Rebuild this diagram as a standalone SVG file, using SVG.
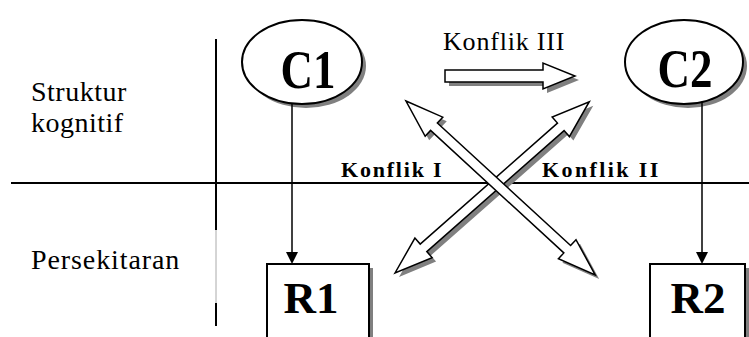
<svg xmlns="http://www.w3.org/2000/svg" width="749" height="337" viewBox="0 0 749 337">
<defs>
<style>
.t{font-family:"Liberation Serif","Times New Roman",serif;fill:#000}
.b{font-family:"Liberation Serif","Times New Roman",serif;font-weight:bold;fill:#000;text-anchor:middle}
.sh{fill:#808080}
.nd{fill:#fff;stroke:#000;stroke-width:2}
.blk{fill:#fff;stroke:#000;stroke-width:1.5}
</style>
</defs>
<rect x="0" y="0" width="749" height="337" fill="#fff"/>
<g id="axes">
<line x1="11" y1="183" x2="749" y2="183" stroke="#000" stroke-width="2"/>
<line x1="216" y1="39" x2="216" y2="230" stroke="#000" stroke-width="2"/>
<line x1="216" y1="230" x2="216" y2="303" stroke="#aaa" stroke-width="1"/>
<line x1="216" y1="303" x2="216" y2="326" stroke="#000" stroke-width="2"/>
</g>
<g id="labels">
<text class="t" x="31" y="101" font-size="28" letter-spacing="0.5">Struktur</text>
<text class="t" x="31" y="132" font-size="28" letter-spacing="0.5">kognitif</text>
<text class="t" x="31" y="269" font-size="28" letter-spacing="0.9">Persekitaran</text>
</g>
<g id="C1">
<ellipse class="sh" cx="306" cy="66" rx="60" ry="42"/>
<ellipse class="nd" cx="302" cy="62" rx="60" ry="42"/>
<text class="b" x="308" y="88" font-size="50" transform="translate(308,88) scale(0.9,1.1) translate(-308,-88)">C1</text>
</g>
<g id="C2">
<ellipse class="sh" cx="688" cy="66" rx="59" ry="42"/>
<ellipse class="nd" cx="684" cy="62" rx="59" ry="42"/>
<text class="b" x="685" y="87" font-size="50" transform="translate(685,87) scale(0.9,1.1) translate(-685,-87)">C2</text>
</g>
<g id="R1">
<rect class="sh" x="271" y="268" width="102" height="80"/>
<rect class="nd" x="267" y="264" width="102" height="80"/>
<text class="b" x="311" y="313" font-size="45">R1</text>
</g>
<g id="R2">
<rect class="sh" x="654" y="268" width="95" height="80"/>
<rect class="nd" x="650" y="264" width="95" height="80"/>
<text class="b" x="698" y="313" font-size="45">R2</text>
</g>
<g id="konflik3">
<polygon class="sh" points="449,74 547,74 547,67 579,80 547,93 547,86 449,86"/>
<polygon class="blk" points="445,70 543,70 543,63 575,76 543,89 543,82 445,82"/>
<text class="t" x="443" y="50" font-size="26" letter-spacing="0.8">Konflik III</text>
</g>
<g id="konflik-x">
<g transform="translate(399,277) rotate(-41.4)">
<polygon class="sh" points="0,0 38,-13 38,-5 221,-5 221,-13 259,0 221,13 221,5 38,5 38,13"/>
</g>
<g transform="translate(395,273) rotate(-41.4)">
<polygon class="blk" points="0,0 38,-13 38,-5 221,-5 221,-13 259,0 221,13 221,5 38,5 38,13"/>
</g>
<g transform="translate(410,105) rotate(42.6)">
<polygon class="sh" points="0,0 38,-13 38,-5 219,-5 219,-13 257,0 219,13 219,5 38,5 38,13"/>
</g>
<g transform="translate(406,101) rotate(42.6)">
<polygon class="blk" points="0,0 38,-13 38,-5 219,-5 219,-13 257,0 219,13 219,5 38,5 38,13"/>
</g>
<text class="t" x="341" y="177" font-size="22" font-weight="bold" letter-spacing="1.8">Konflik I</text>
<text class="t" x="542" y="177" font-size="22" font-weight="bold" letter-spacing="2.4">Konflik II</text>
</g>
<g id="connectors">
<line x1="292" y1="104" x2="292" y2="253" stroke="#000" stroke-width="1.5"/>
<polygon points="286,252 298,252 292,264" fill="#000"/>
<line x1="702" y1="102" x2="702" y2="253" stroke="#000" stroke-width="1.5"/>
<polygon points="696,252 708,252 702,264" fill="#000"/>
</g>
</svg>
